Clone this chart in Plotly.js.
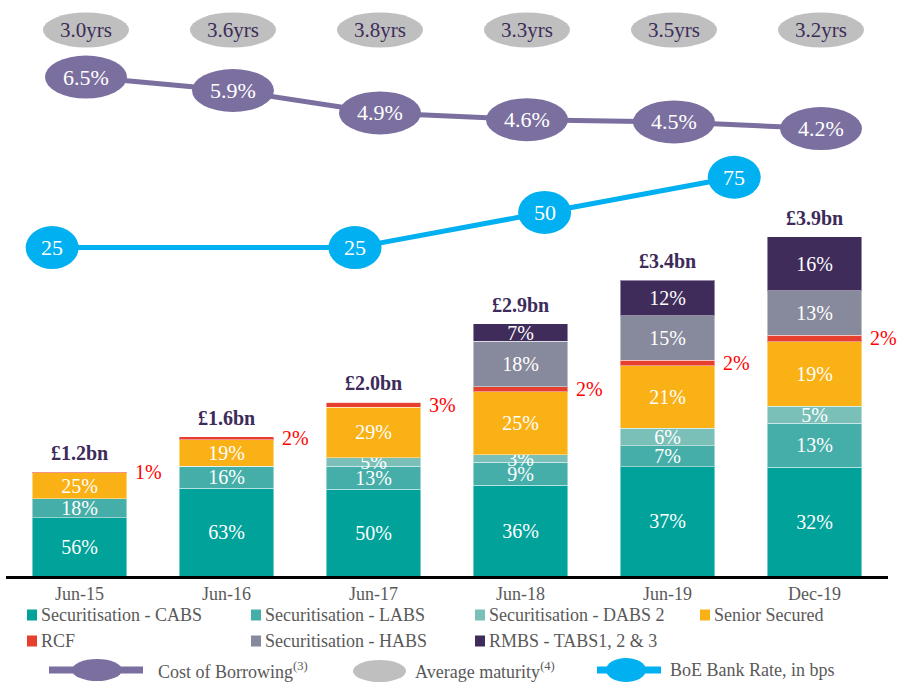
<!DOCTYPE html>
<html><head><meta charset="utf-8">
<script src="https://cdn.plot.ly/plotly-3.0.1.min.js"></script>
<style>html,body{margin:0;padding:0;background:#fff}#chart{width:899px;height:682px}</style>
</head><body><div id="chart"></div>
<script>
// ---------- data ----------
const periods = ['Jun-15','Jun-16','Jun-17','Jun-18','Jun-19','Dec-19'];
const totalsBn = [1.2,1.6,2.0,2.9,3.4,3.9];
const cabsPct   = [56,63,50,36,37,32];
const labsPct   = [18,16,13,9,7,13];
const dabsPct   = [0,0,5,3,6,5];
const seniorPct = [25,19,29,25,21,19];
const rcfPct    = [1,2,3,2,2,2];
const habsPct   = [0,0,0,18,15,13];
const tabsPct   = [0,0,0,7,12,16];
const costOfBorrowingPct = [6.5,5.9,4.9,4.6,4.5,4.2];
const avgMaturityYrs = [3.0,3.6,3.8,3.3,3.5,3.2];
const boeRateBps = [25,25,50,75];
const boePosition = [-0.23,1.83,3.12,4.41]; // position along the period axis (index units)

// ---------- styles ----------
const FONT = '"Liberation Serif", "Times New Roman", serif';
const W = 899, H = 682, L = 6, R = 11, T = 0, B = 106;
const PW = W - L - R, PH = H - T - B;
const px = x => (x - L) / PW;
const py = y => 1 - (y - T) / PH;

const series = [
  {name:'Securitisation - CABS', pct:cabsPct, color:'#00a29a'},
  {name:'Securitisation - LABS', pct:labsPct, color:'#46aea8'},
  {name:'Securitisation - DABS 2', pct:dabsPct, color:'#7bbfb9'},
  {name:'Senior Secured', pct:seniorPct, color:'#f9b115'},
  {name:'RCF', pct:rcfPct, color:'#e63f2e', noText:true},
  {name:'Securitisation - HABS', pct:habsPct, color:'#878a9c'},
  {name:'RMBS - TABS1, 2 & 3', pct:tabsPct, color:'#3f2c5a'}
];

const traces = series.map(s => ({
  type:'bar', name:s.name, x:periods,
  y:s.pct.map((p,i)=>totalsBn[i]*p/100),
  text:s.pct.map(p => (p>0 && !s.noText) ? p+'%' : ''),
  textposition:'inside', insidetextanchor:'middle', textangle:0,
  textfont:{family:FONT, size:20, color:'#ffffff'},
  marker:{color:s.color, line:{color:'rgba(255,255,255,0.45)', width:1}},
  hoverinfo:'skip', showlegend:false
}));

const idx = periods.map((_,i)=>i);
traces.push({
  type:'scatter', mode:'lines', x:idx, y:costOfBorrowingPct, xaxis:'x2', yaxis:'y2',
  line:{color:'#7b6fa0', width:5}, hoverinfo:'skip', showlegend:false, cliponaxis:false
});
traces.push({
  type:'scatter', mode:'lines', x:boePosition, y:boeRateBps, xaxis:'x2', yaxis:'y3',
  line:{color:'#00b0f0', width:5}, hoverinfo:'skip', showlegend:false, cliponaxis:false
});

const shapes = [];
const annotations = [];

// cost of borrowing ellipses
costOfBorrowingPct.forEach((v,i)=>{
  shapes.push({type:'circle', xref:'x2', yref:'y2', xsizemode:'pixel', ysizemode:'pixel',
    xanchor:i, yanchor:v, x0:-41, x1:41, y0:-21.5, y1:21.5,
    fillcolor:'#7b6fa0', line:{width:0}, layer:'above'});
  annotations.push({xref:'x2', yref:'y2', x:i, y:v, xanchor:'center', yanchor:'middle',
    text:v.toFixed(1)+'%', showarrow:false,
    font:{family:FONT, size:22, color:'#ffffff'}});
});
// BoE ellipses
boeRateBps.forEach((v,i)=>{
  shapes.push({type:'circle', xref:'x2', yref:'y3', xsizemode:'pixel', ysizemode:'pixel',
    xanchor:boePosition[i], yanchor:v, x0:-26.5, x1:26.5, y0:-21.5, y1:21.5,
    fillcolor:'#00b0f0', line:{width:0}, layer:'above'});
  annotations.push({xref:'x2', yref:'y3', x:boePosition[i], y:v, xanchor:'center', yanchor:'middle',
    text:String(v), showarrow:false,
    font:{family:FONT, size:22, color:'#ffffff'}});
});
// average maturity ellipses
avgMaturityYrs.forEach((v,i)=>{
  shapes.push({type:'circle', xref:'x2', yref:'paper', xsizemode:'pixel', ysizemode:'pixel',
    xanchor:i, yanchor:py(30), x0:-43, x1:43, y0:-17.5, y1:17.5,
    fillcolor:'#bfbfbf', line:{width:0}, layer:'above'});
  annotations.push({xref:'x2', yref:'paper', x:i, y:py(30), xanchor:'center', yanchor:'middle',
    text:v.toFixed(1)+'yrs', showarrow:false,
    font:{family:FONT, size:21, color:'#3c2d58'}});
});
// totals
totalsBn.forEach((t,i)=>{
  annotations.push({xref:'x', yref:'y', x:periods[i], y:t, xanchor:'center', yanchor:'bottom', yshift:6,
    text:'<b>£'+t.toFixed(1)+'bn</b>', showarrow:false,
    font:{family:FONT, size:20, color:'#3d2b5a'}});
});
// RCF labels (right of the bars)
rcfPct.forEach((p,i)=>{
  const below = cabsPct[i]+labsPct[i]+dabsPct[i]+seniorPct[i];
  annotations.push({xref:'x', yref:'y', x:periods[i], y:totalsBn[i]*(below+p/2)/100,
    xanchor:'center', yanchor:'middle', xshift:69, text:p+'%', showarrow:false,
    font:{family:FONT, size:20, color:'#ff0000'}});
});

// ---------- manual legend ----------
const legendFont = {family:FONT, size:18, color:'#595959'};
const legendRows = [
  [[27,615,0],[251,615,1],[475,615,2],[700,615,3]],
  [[27,641,4],[251,641,5],[475,641,6]]
];
legendRows.forEach(row => row.forEach(([x,y,k])=>{
  shapes.push({type:'rect', xref:'paper', yref:'paper', x0:px(x), x1:px(x+10), y0:py(y-5.5), y1:py(y+5.5),
    fillcolor:series[k].color, line:{width:0}});
  annotations.push({xref:'paper', yref:'paper', x:px(x+12), y:py(y), xanchor:'left', yanchor:'middle',
    text:series[k].name, showarrow:false, font:legendFont});
}));
// row 3
shapes.push({type:'line', xref:'paper', yref:'paper', x0:px(49), x1:px(143), y0:py(670), y1:py(670),
  line:{color:'#7b6fa0', width:7}});
shapes.push({type:'circle', xref:'paper', yref:'paper', x0:px(72), x1:px(122), y0:py(659), y1:py(681),
  fillcolor:'#7b6fa0', line:{width:0}});
annotations.push({xref:'paper', yref:'paper', x:px(156), y:py(670), xanchor:'left', yanchor:'middle',
  text:'Cost of Borrowing<sup>(3)</sup>', showarrow:false, font:legendFont});
shapes.push({type:'circle', xref:'paper', yref:'paper', x0:px(353), x1:px(406), y0:py(660), y1:py(682),
  fillcolor:'#bfbfbf', line:{width:0}});
annotations.push({xref:'paper', yref:'paper', x:px(413), y:py(670), xanchor:'left', yanchor:'middle',
  text:'Average maturity<sup>(4)</sup>', showarrow:false, font:legendFont});
shapes.push({type:'line', xref:'paper', yref:'paper', x0:px(597), x1:px(661), y0:py(670), y1:py(670),
  line:{color:'#00b0f0', width:7}});
shapes.push({type:'circle', xref:'paper', yref:'paper', x0:px(606), x1:px(646), y0:py(658), y1:py(682),
  fillcolor:'#00b0f0', line:{width:0}});
annotations.push({xref:'paper', yref:'paper', x:px(668), y:py(670), xanchor:'left', yanchor:'middle',
  text:'BoE Bank Rate, in bps', showarrow:false, font:legendFont});

const layout = {
  width:W, height:H, margin:{l:L, r:R, t:T, b:B},
  paper_bgcolor:'#ffffff', plot_bgcolor:'#ffffff',
  barmode:'stack', bargap:0.354,
  showlegend:false,
  font:{family:FONT},
  uniformtext:{mode:'show', minsize:20},
  xaxis:{type:'category', range:[-0.5,5.5], showline:true, linecolor:'#000000', linewidth:2.5,
    ticks:'', showgrid:false, zeroline:false, fixedrange:true,
    tickfont:{family:FONT, size:18, color:'#595959'}},
  yaxis:{range:[0, PH/87], visible:false, showgrid:false, zeroline:false, fixedrange:true},
  xaxis2:{overlaying:'x', anchor:'y', range:[-0.544,5.456], visible:false, fixedrange:true},
  yaxis2:{overlaying:'y', anchor:'x', range:[-15.75,9.935], visible:false, fixedrange:true},
  yaxis3:{overlaying:'y', anchor:'x', range:[-208.4,200.99], visible:false, fixedrange:true},
  shapes:shapes, annotations:annotations
};

Plotly.newPlot('chart', traces, layout, {displayModeBar:false, staticPlot:true});
</script>
</body></html>
